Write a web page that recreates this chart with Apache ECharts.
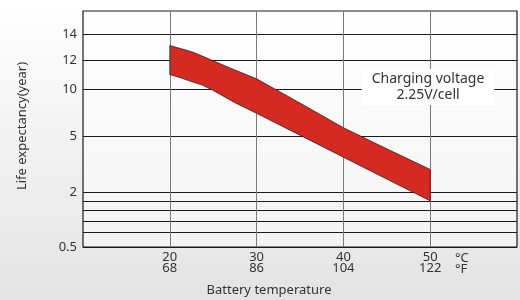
<!DOCTYPE html>
<html>
<head>
<meta charset="utf-8">
<script src="https://cdn.jsdelivr.net/npm/echarts@6/dist/echarts.min.js"></script>
<style>
  html, body { margin: 0; padding: 0; }
  #chart { width: 520px; height: 300px; }
</style>
</head>
<body>
<div id="chart"></div>
<script>
// temperature points (°C) along the band
const tempC = [20, 21.25, 22.5, 23.75, 25, 27.5, 30, 35, 40, 45, 50];
// life expectancy upper / lower edge (year)
const upperYears = [13.11, 12.88, 12.64, 12.3, 11.94, 11.31, 10.7, 8.52, 5.94, 4.34, 3.22];
const lowerYears = [11.0, 10.77, 10.51, 10.27, 9.85, 8.57, 7.45, 5.16, 3.89, 2.7, 1.76];

// axis ticks
const xTicksC = [20, 30, 40, 50];
const xTicksF = [68, 86, 104, 122];
const yTickYears = [0.5, 2, 5, 10, 12, 14];
const yMinorYears = [0.9, 1.2, 1.5, 1.75];

/* the y scale of the original is neither linear nor log: piecewise stops */
const yStopLevels = [0, 55, 110.3, 158, 187, 213];
const yTop = 236;

function toLevel(y) {
    for (let i = 1; i < yTickYears.length; i++) {
        if (y <= yTickYears[i] || i === yTickYears.length - 1) {
            const y0 = yTickYears[i - 1], y1 = yTickYears[i];
            const l0 = yStopLevels[i - 1], l1 = yStopLevels[i];
            return l0 + (y - y0) / (y1 - y0) * (l1 - l0);
        }
    }
}

const font = 'Noto Sans';
let chart = echarts.init(document.getElementById('chart'));
chart.setOption({
    animation: false,
    backgroundColor: {
        type: 'linear', x: 0, y: 0, x2: 0, y2: 1,
        colorStops: [{ offset: 0, color: '#ffffff' }, { offset: 1, color: '#e3e3e3' }]
    },
    grid: {
        left: 83,
        right: 2,
        top: 11,
        bottom: 53,
        show: true,
        borderColor: '#1a1a1a',
        borderWidth: 1.2,
        backgroundColor: {
            type: 'linear', x: 0, y: 0, x2: 0, y2: 1,
            colorStops: [{ offset: 0, color: '#ffffff' }, { offset: 1, color: '#f3f3f3' }]
        }
    },
    xAxis: {
        type: 'value',
        min: 10,
        max: 60,
        interval: 10,
        axisLine: { show: false },
        axisTick: { show: false },
        splitLine: { show: false },
        axisLabel: {
            margin: 5,
            color: '#333',
            fontFamily: font,
            fontSize: 13,
            lineHeight: 11,
            formatter: function (v) {
                let i = xTicksC.indexOf(v);
                return i < 0 ? '' : xTicksC[i] + '\n' + xTicksF[i];
            }
        }
    },
    yAxis: {
        type: 'value',
        min: 0,
        max: yTop,
        axisLine: { show: false },
        axisTick: { show: false },
        splitLine: { show: false },
        axisLabel: {
            margin: 6,
            color: '#333',
            fontFamily: font,
            fontSize: 13,
            customValues: yTickYears.map(toLevel),
            formatter: function (v) {
                let best = 0;
                yTickYears.forEach(function (y, i) {
                    if (Math.abs(toLevel(y) - v) < Math.abs(toLevel(yTickYears[best]) - v)) best = i;
                });
                return String(yTickYears[best]);
            }
        }
    },
    graphic: [
        {
            type: 'text', x: 428, y: 69, z: 3,
            style: {
                text: 'Charging voltage\n2.25V/cell',
                align: 'center', verticalAlign: 'top',
                fill: '#333', font: '14px "Noto Sans"', lineHeight: 16,
                backgroundColor: '#ffffff', padding: [2, 10, 2, 10]
            }
        },
        {
            type: 'text', x: 269, y: 290, z: 3,
            style: {
                text: 'Battery temperature', align: 'center', verticalAlign: 'middle',
                fill: '#333', font: '13px "Noto Sans"'
            }
        },
        {
            type: 'text', x: 22, y: 126, rotation: Math.PI / 2, z: 3,
            style: {
                text: 'Life expectancy(year)', align: 'center', verticalAlign: 'middle',
                fill: '#333', font: '13px "Noto Sans"'
            }
        },
        {
            type: 'text', x: 455, y: 253, z: 3,
            style: {
                text: '°C\n°F', align: 'left', verticalAlign: 'top',
                fill: '#333', font: '13px "Noto Sans"', lineHeight: 11
            }
        }
    ],
    series: [
        {
            // horizontal grid lines
            type: 'line',
            data: [],
            silent: true,
            markLine: {
                z: 1,
                silent: true,
                symbol: 'none',
                label: { show: false },
                lineStyle: { color: '#1a1a1a', width: 1, type: 'solid' },
                data: yTickYears.concat(yMinorYears).map(function (y) { return { yAxis: toLevel(y) }; })
            }
        },
        {
            // vertical grid lines
            type: 'line',
            data: [],
            silent: true,
            markLine: {
                z: 2,
                silent: true,
                symbol: 'none',
                label: { show: false },
                lineStyle: { color: '#7a7a7a', width: 1, type: 'solid' },
                data: xTicksC.map(function (t) { return { xAxis: t }; })
            }
        },
        {
            // life expectancy band
            type: 'custom',
            z: 4,
            silent: true,
            data: [[tempC[0], 0]],
            renderItem: function (params, api) {
                let pts = [];
                tempC.forEach(function (t, i) { pts.push(api.coord([t, toLevel(upperYears[i])])); });
                for (let i = tempC.length - 1; i >= 0; i--) pts.push(api.coord([tempC[i], toLevel(lowerYears[i])]));
                return {
                    type: 'polygon',
                    shape: { points: pts },
                    style: { fill: '#d52a21', stroke: '#3a1c1a', lineWidth: 0.8 }
                };
            }
        }
    ]
});
</script>
</body>
</html>
